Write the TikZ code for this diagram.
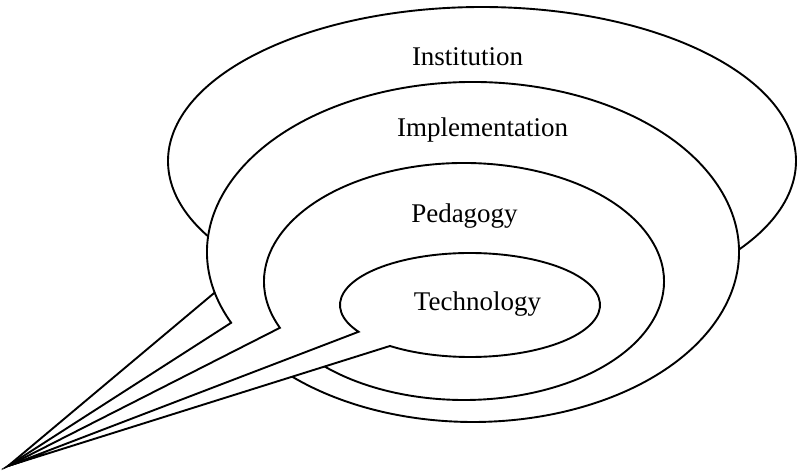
\documentclass[tikz,border=0pt]{standalone}
\usepackage{fontspec}
\setmainfont{Liberation Serif}

\begin{document}
\begin{tikzpicture}[x=0.025cm, y=0.025cm]
            \tikzset{bubble/.style = {draw=black, fill=white, line width=1.35pt}}
            \tikzset{ringtext/.style = {anchor=base, font=\fontsize{19.2}{23}\selectfont}}
            \useasboundingbox (0,0) rectangle (798,470);
            % common point of the tails
            \coordinate (tip) at (8,4);
            % bubbles, back to front
            \draw[bubble] (tip) -- ([shift={(482,309)}]222:314 and 154)
                arc[start angle=222, end angle=-115, x radius=314, y radius=154] -- cycle;
            \draw[bubble] (tip) -- ([shift={(473,218)}]204.6:266 and 170)
                arc[start angle=204.6, end angle=-135, x radius=266, y radius=170] -- cycle;
            \draw[bubble] (tip) -- ([shift={(464,188.5)}]203:200 and 118.5)
                arc[start angle=203, end angle=-138, x radius=200, y radius=118.5] -- cycle;
            \draw[bubble] (tip) -- ([shift={(470,165)}]211:130 and 52)
                arc[start angle=211, end angle=-128, x radius=130, y radius=52] -- cycle;
            % labels
            \node[ringtext] (institution) at (467.5,405) {Institution};
            \node[ringtext] (implementation) at (482.5,333.3) {Implementation};
            \node[ringtext] (pedagogy) at (464.5,248) {Pedagogy};
            \node[ringtext] (technology) at (477.5,160) {Technology};
        \end{tikzpicture}
\end{document}
